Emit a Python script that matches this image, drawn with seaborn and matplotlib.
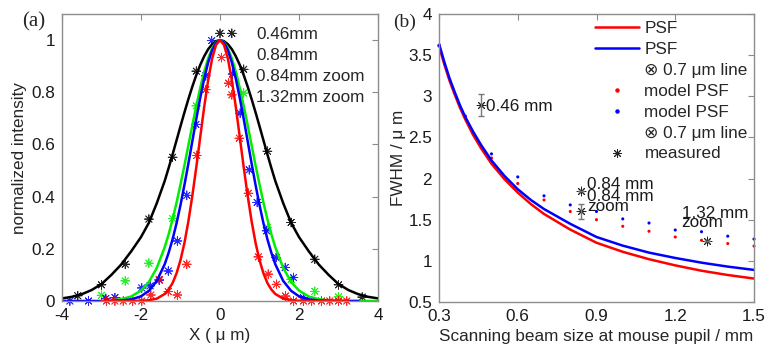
import numpy as np
import pandas as pd
import matplotlib
matplotlib.use("Agg")
import matplotlib.pyplot as plt
import seaborn as sns
from matplotlib.lines import Line2D
from matplotlib.ticker import FormatStrFormatter

nan = np.nan

# ---------------- (a) line profiles, fitted curves ----------------
x_fit = [-4.0, -3.75, -3.5, -3.25, -3.0, -2.75, -2.5, -2.25, -2.0, -1.8, -1.6, -1.4, -1.3,
         -1.2, -1.1, -1.0, -0.9, -0.8, -0.7, -0.6, -0.5, -0.4, -0.3, -0.2, -0.1,
         0.0,
         0.1, 0.2, 0.3, 0.4, 0.5, 0.6, 0.7, 0.8, 0.9, 1.0, 1.1, 1.2, 1.3,
         1.4, 1.6, 1.8, 2.0, 2.25, 2.5, 2.75, 3.0, 3.25, 3.5, 3.75, 4.0]

fit_046 = [0.010, 0.016, 0.026, 0.042, 0.065, 0.100, 0.140, 0.190, 0.245, 0.300, 0.375, 0.460, 0.510,
           0.562, 0.616, 0.670, 0.723, 0.774, 0.822, 0.866, 0.905, 0.938, 0.965, 0.984, 0.996,
           1.000,
           0.996, 0.984, 0.965, 0.938, 0.905, 0.866, 0.822, 0.774, 0.723, 0.670, 0.616, 0.562, 0.510,
           0.460, 0.375, 0.300, 0.245, 0.190, 0.140, 0.100, 0.065, 0.042, 0.026, 0.016, 0.010]

fit_084 = [nan, nan, nan, nan, nan, 0.002, 0.007, 0.017, 0.040, 0.073, 0.127, 0.206, 0.256,
           0.313, 0.377, 0.447, 0.520, 0.597, 0.674, 0.748, 0.817, 0.879, 0.930, 0.968, 0.992,
           1.000,
           0.992, 0.968, 0.930, 0.879, 0.817, 0.748, 0.674, 0.597, 0.520, 0.447, 0.377, 0.313, 0.256,
           0.206, 0.127, 0.073, 0.040, 0.017, 0.007, 0.002, 0.001, 0.0, 0.0, 0.0, 0.0]

fit_084z = [0.0, 0.0, 0.0, 0.0, 0.0, 0.001, 0.002, 0.006, 0.018, 0.039, 0.077, 0.141, 0.185,
            0.237, 0.298, 0.368, 0.445, 0.527, 0.613, 0.698, 0.779, 0.852, 0.914, 0.961, 0.990,
            1.000,
            0.990, 0.961, 0.914, 0.852, 0.779, 0.698, 0.613, 0.527, 0.445, 0.368, 0.298, 0.237, 0.185,
            0.141, 0.077, 0.039, 0.018, 0.006, 0.002, 0.001, 0.0, 0.0, 0.0, nan, nan]

fit_132z = [nan, nan, nan, nan, 0.0, 0.0, 0.0, 0.0, 0.001, 0.003, 0.009, 0.027, 0.044,
            0.069, 0.106, 0.157, 0.223, 0.306, 0.404, 0.513, 0.629, 0.744, 0.846, 0.929, 0.982,
            1.000,
            0.982, 0.929, 0.846, 0.744, 0.629, 0.513, 0.404, 0.306, 0.223, 0.157, 0.106, 0.069, 0.044,
            0.027, 0.009, 0.003, 0.001, 0.0, 0.0, 0.0, 0.0, 0.0, nan, nan, nan]

# ---------------- (a) measured profile points ----------------
pts_046_x = [-3.6, -3.0, -2.4, -1.8, -1.2, -0.6, 0.0, 0.3, 0.6, 1.2, 1.8, 2.4, 3.0, 3.6]
pts_046_y = [0.02, 0.062, 0.141, 0.314, 0.551, 0.881, 1.026, 1.026, 0.888, 0.574, 0.301, 0.16, 0.062, 0.015]

pts_084_x = [-3.0, -2.4, -1.8, -1.2, -0.6, 0.6, 1.2, 1.8, 2.4, 3.0]
pts_084_y = [0.022, 0.077, 0.145, 0.316, 0.748, 0.797, 0.282, 0.083, 0.037, 0.016]

pts_084z_x = [-3.8, -3.33, -2.89, -2.66, -1.98, -1.77, -1.54, -1.31, -1.08, -0.84, -0.61, -0.36,
              -0.21, 0.32, 0.51, 0.74, 0.94, 1.18, 1.42, 1.65, 1.86, 2.11]
pts_084z_y = [0.0, 0.0, 0.01, 0.013, 0.05, 0.058, 0.08, 0.115, 0.23, 0.405, 0.677, 0.863,
              0.998, 0.87, 0.72, 0.503, 0.378, 0.269, 0.167, 0.128, 0.09, 0.013]

pts_132z_x = [-2.87, -2.66, -2.45, -2.21, -1.98, -1.75, -1.54, -1.31, -1.08, -0.84, -0.59, -0.36,
              0.04, 0.22, 0.30, 0.49, 0.72, 0.97, 1.22, 1.43, 1.66, 1.86, 2.11, 2.32, 2.57, 2.78,
              3.0, 3.21]
pts_132z_y = [0.0, 0.0, 0.0, 0.0, 0.0, 0.023, 0.083, 0.036, 0.023, 0.141, 0.558, 0.81,
              0.933, 0.835, 0.79, 0.624, 0.413, 0.169, 0.103, 0.064, 0.019, 0.0, 0.0, 0.0, 0.0, 0.0,
              0.0, 0.0]

beams = ["0.46mm", "0.84mm", "0.84mm zoom", "1.32mm zoom"]
beam_colors = ["black", "#00ee00", "#0000ff", "#ff0000"]

# ---------------- (b) FWHM vs beam size ----------------
beam_size = [0.30, 0.32, 0.34, 0.36, 0.38, 0.40, 0.43, 0.46, 0.50, 0.55, 0.60, 0.65, 0.70,
             0.80, 0.90, 1.00, 1.10, 1.20, 1.30, 1.40, 1.50]
psf_red = [3.61, 3.39, 3.19, 3.02, 2.86, 2.72, 2.53, 2.37, 2.18, 1.99, 1.83, 1.69, 1.57,
           1.38, 1.22, 1.11, 1.02, 0.945, 0.88, 0.828, 0.785]
psf_blue = [3.64, 3.42, 3.22, 3.05, 2.89, 2.75, 2.57, 2.41, 2.22, 2.03, 1.87, 1.74, 1.63,
            1.45, 1.29, 1.185, 1.10, 1.035, 0.978, 0.93, 0.89]

dot_size = [0.3, 0.4, 0.5, 0.6, 0.7, 0.8, 0.9, 1.0, 1.1, 1.2, 1.3, 1.4, 1.5]
model_red = [3.61, 2.75, 2.25, 1.94, 1.74, 1.60, 1.50, 1.42, 1.36, 1.29, 1.25, 1.21, 1.18]
model_blue = [3.62, 2.76, 2.30, 2.02, 1.79, 1.68, 1.60, 1.51, 1.46, 1.375, 1.354, 1.30, 1.265]

meas_size = [0.46, 0.84, 0.84, 1.32]
meas_fwhm = [2.89, 1.85, 1.60, 1.245]
meas_err = [0.135, 0.0, 0.095, 0.0]
meas_labels = ["0.46 mm", "0.84 mm", "0.84 mm\nzoom", "1.32 mm\nzoom"]

# ---------------- style ----------------
sns.set_style("white")
plt.rcParams["font.family"] = ["Liberation Sans", "DejaVu Sans"]
plt.rcParams["axes.unicode_minus"] = False
fs = 12.3

asterisk = (8, 2, 0)
edge = "#8c8c8c"


def style_axes(ax):
    for s in ax.spines.values():
        s.set_visible(True)
        s.set_color(edge)
        s.set_linewidth(1.0)
    ax.tick_params(direction="in", top=True, right=True, length=4, width=0.8,
                   color=edge, labelsize=fs, pad=5, labelcolor="#1a1a1a")
    ax.grid(False)


fig = plt.figure(figsize=(7.69, 3.52), dpi=100)
ax1 = fig.add_axes([62 / 769, 51 / 352, 316 / 769, 287 / 352])
ax2 = fig.add_axes([439 / 769, 50 / 352, 315 / 769, 288 / 352])

# ---- panel (a)
fits = pd.DataFrame({"x": x_fit, beams[0]: fit_046, beams[1]: fit_084,
                     beams[2]: fit_084z, beams[3]: fit_132z})
fits = fits.melt(id_vars="x", var_name="beam", value_name="intensity")
pal = dict(zip(beams, beam_colors))

sns.lineplot(data=fits, x="x", y="intensity", hue="beam", hue_order=beams, palette=pal,
             estimator=None, lw=1.8, legend=False, ax=ax1)

pts = pd.concat([
    pd.DataFrame({"x": pts_046_x, "y": pts_046_y, "beam": beams[0]}),
    pd.DataFrame({"x": pts_084_x, "y": pts_084_y, "beam": beams[1]}),
    pd.DataFrame({"x": pts_084z_x, "y": pts_084z_y, "beam": beams[2]}),
    pd.DataFrame({"x": pts_132z_x, "y": pts_132z_y, "beam": beams[3]}),
])
sns.scatterplot(data=pts, x="x", y="y", hue="beam", hue_order=beams, palette=pal,
                marker=asterisk, s=40, linewidth=0.6, alpha=0.85, legend=False,
                clip_on=False, ax=ax1)

ax1.set_xlim(-4, 4)
ax1.set_ylim(0, 1.1)
ax1.set_xticks([-4, -2, 0, 2, 4])
ax1.set_yticks([0, 0.2, 0.4, 0.6, 0.8, 1.0])
ax1.yaxis.set_major_formatter(FormatStrFormatter("%g"))
ax1.xaxis.set_major_formatter(FormatStrFormatter("%g"))
ax1.set_xlabel("X ( μ m)", fontsize=fs)
ax1.set_ylabel("normalized intensity", fontsize=fs)
ax1.xaxis.set_label_coords(0.5, -0.095)
ax1.yaxis.set_label_coords(-0.112, 0.5)
style_axes(ax1)

leg1 = ax1.legend([Line2D([], [], color=c) for c in beam_colors], beams,
                  loc="upper left", bbox_to_anchor=(0.615, 0.954), frameon=False,
                  handlelength=0, handletextpad=0, borderpad=0, borderaxespad=0,
                  labelspacing=0.35, fontsize=fs)
for h in leg1.legend_handles:
    h.set_visible(False)

# ---- panel (b)
curves = pd.DataFrame({"size": beam_size, "PSF": psf_red, "PSF line": psf_blue})
curves = curves.melt(id_vars="size", var_name="model", value_name="fwhm")
sns.lineplot(data=curves, x="size", y="fwhm", hue="model", palette=["#ff0000", "#0000ff"],
             estimator=None, lw=1.8, legend=False, ax=ax2)

dots = pd.DataFrame({"size": dot_size * 2, "fwhm": model_red + model_blue,
                     "model": ["red"] * len(dot_size) + ["blue"] * len(dot_size)})
sns.scatterplot(data=dots, x="size", y="fwhm", hue="model", palette=["#ff0000", "#0000ff"],
                marker="o", s=5, linewidth=0, legend=False, clip_on=False, ax=ax2)

ax2.errorbar(meas_size, meas_fwhm, yerr=meas_err, fmt="none", ecolor="#777777",
             elinewidth=1, capsize=2.5, capthick=1)
sns.scatterplot(x=meas_size, y=meas_fwhm, color="#222222", marker=asterisk, s=40,
                linewidth=0.7, legend=False, ax=ax2)

label_offsets = [(3.6, -4.2), (4.8, 1.7), (4.8, 7.2), (-18.0, 16.1)]
for x, y, lab, (dx, dy) in zip(meas_size, meas_fwhm, meas_labels, label_offsets):
    for i, line in enumerate(lab.split("\n")):
        ax2.annotate(line, (x, y), xytext=(dx, dy - 6.5 * i), textcoords="offset points",
                     ha="left", va="baseline", fontsize=fs, color="#1a1a1a")

ax2.set_xlim(0.3, 1.5)
ax2.set_ylim(0.5, 4)
ax2.set_xticks([0.3, 0.6, 0.9, 1.2, 1.5])
ax2.set_yticks([0.5, 1, 1.5, 2, 2.5, 3, 3.5, 4])
ax2.xaxis.set_major_formatter(FormatStrFormatter("%g"))
ax2.yaxis.set_major_formatter(FormatStrFormatter("%g"))
ax2.set_xlabel("Scanning beam size at mouse pupil / mm", fontsize=fs)
ax2.set_ylabel("FWHM / μ m", fontsize=fs)
ax2.xaxis.set_label_coords(0.5, -0.095)
ax2.yaxis.set_label_coords(-0.106, 0.5)
style_axes(ax2)

handles = [Line2D([], [], color="#ff0000", lw=1.8),
           Line2D([], [], color="#0000ff", lw=1.8),
           Line2D([], [], color="none"),
           Line2D([], [], color="#ff0000", marker="o", ms=2.2, ls="none"),
           Line2D([], [], color="#0000ff", marker="o", ms=2.2, ls="none"),
           Line2D([], [], color="none"),
           Line2D([], [], color="#222222", marker=asterisk, ms=6.5, mew=0.7, ls="none")]
labels = ["PSF", "PSF", "⊗ 0.7 μm line", "model PSF", "model PSF", "⊗ 0.7 μm line", "measured"]
ax2.legend(handles, labels, loc="upper left", bbox_to_anchor=(0.495, 0.977), frameon=False,
           handlelength=2.6, handletextpad=0.3, borderpad=0, borderaxespad=0,
           labelspacing=0.35, fontsize=fs)

fig.text(22 / 769, 1 - 22 / 352, "(a)", family="Liberation Serif", fontsize=15,
         ha="left", va="center")
fig.text(393 / 769, 1 - 22 / 352, "(b)", family="Liberation Serif", fontsize=14,
         ha="left", va="center")

fig.savefig("out.png", dpi=100)
